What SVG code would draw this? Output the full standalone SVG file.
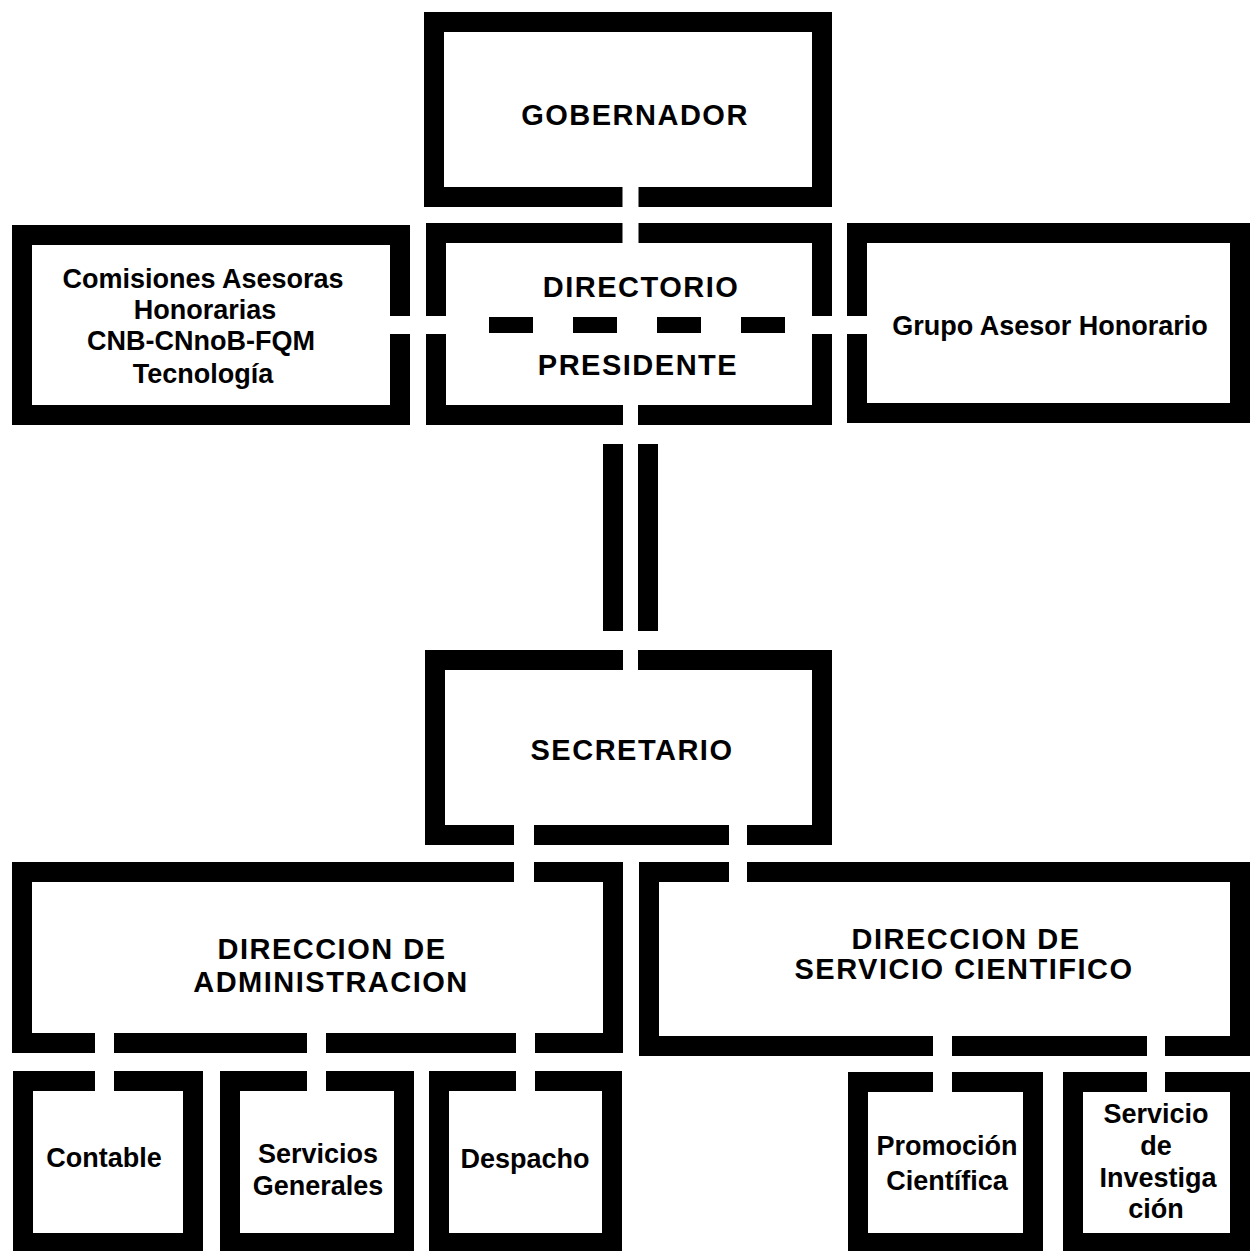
<svg xmlns="http://www.w3.org/2000/svg" width="1250" height="1251" viewBox="0 0 1250 1251">
<style>
.box{fill:none;stroke:#000;stroke-width:20}
.cap{font-family:"Liberation Sans",Arial,sans-serif;font-weight:bold;font-size:29px;letter-spacing:1.5px;text-anchor:middle;fill:#000}
.low{font-family:"Liberation Sans",Arial,sans-serif;font-weight:bold;font-size:27px;text-anchor:middle;fill:#000}
.ch{stroke:#fff;fill:none}
.bar{fill:#000}
</style>
<rect width="1250" height="1251" fill="#fff"/>
<g id="nodes">
<g id="gobernador"><rect class="box" x="434" y="22" width="388" height="175"/><text class="cap" x="635" y="125">GOBERNADOR</text></g>
<g id="comisiones"><rect class="box" x="22" y="235" width="378" height="180"/>
<text class="low" x="203" y="288">Comisiones Asesoras</text>
<text class="low" x="205" y="319">Honorarias</text>
<text class="low" x="201" y="350">CNB-CNnoB-FQM</text>
<text class="low" x="203" y="383">Tecnología</text></g>
<g id="directorio"><rect class="box" x="436" y="233" width="386" height="182"/>
<text class="cap" x="641" y="297">DIRECTORIO</text>
<text class="cap" x="638" y="375">PRESIDENTE</text></g>
<g id="grupo"><rect class="box" x="857" y="233" width="383" height="180"/><text class="low" x="1050" y="335" font-size="28.5">Grupo Asesor Honorario</text></g>
<g id="secretario"><rect class="box" x="435" y="660" width="387" height="175"/><text class="cap" x="632" y="760">SECRETARIO</text></g>
<g id="dir-admin"><rect class="box" x="22" y="872" width="591" height="171"/>
<text class="cap" x="332" y="959">DIRECCION DE</text>
<text class="cap" x="331" y="992">ADMINISTRACION</text></g>
<g id="dir-serv"><rect class="box" x="649" y="872" width="591" height="174"/>
<text class="cap" x="966" y="949">DIRECCION DE</text>
<text class="cap" x="964" y="979">SERVICIO CIENTIFICO</text></g>
<g id="contable"><rect class="box" x="23" y="1081" width="170" height="162"/><text class="low" x="104" y="1167" font-size="28">Contable</text></g>
<g id="servicios-generales"><rect class="box" x="230" y="1081" width="174" height="162"/>
<text class="low" x="318" y="1163" font-size="28">Servicios</text>
<text class="low" x="318" y="1195" font-size="28">Generales</text></g>
<g id="despacho"><rect class="box" x="439" y="1081" width="173" height="162"/><text class="low" x="525" y="1168" font-size="28">Despacho</text></g>
<g id="promocion"><rect class="box" x="858" y="1082" width="175" height="161"/>
<text class="low" x="947" y="1155" font-size="28">Promoción</text>
<text class="low" x="947" y="1190" font-size="28">Científica</text></g>
<g id="servicio-investigacion"><rect class="box" x="1073" y="1082" width="167" height="161"/>
<text class="low" x="1156" y="1123" font-size="28">Servicio</text>
<text class="low" x="1156" y="1155" font-size="28">de</text>
<text class="low" x="1158" y="1187" font-size="28">Investiga</text>
<text class="low" x="1156" y="1218" font-size="28">ción</text></g>
</g>
<g id="connectors">
<line class="ch" x1="630.5" y1="185" x2="630.5" y2="247" stroke-width="16"/>
<line class="ch" x1="630.5" y1="403" x2="630.5" y2="674" stroke-width="15"/>
<rect class="bar" x="603" y="444" width="20" height="187"/>
<rect class="bar" x="638" y="444" width="20" height="187"/>
<line class="ch" x1="388" y1="325" x2="448" y2="325" stroke-width="18"/>
<line class="ch" x1="810" y1="325" x2="870" y2="325" stroke-width="18"/>
<line x1="489" y1="325" x2="786" y2="325" stroke="#000" stroke-width="16" stroke-dasharray="44 40"/>
<line class="ch" x1="524" y1="823" x2="524" y2="884" stroke-width="20"/>
<line class="ch" x1="738" y1="823" x2="738" y2="884" stroke-width="18"/>
<line class="ch" x1="104.5" y1="1030" x2="104.5" y2="1094" stroke-width="19"/>
<line class="ch" x1="316.5" y1="1030" x2="316.5" y2="1094" stroke-width="19"/>
<line class="ch" x1="525.5" y1="1030" x2="525.5" y2="1094" stroke-width="19"/>
<line class="ch" x1="942.5" y1="1033" x2="942.5" y2="1094" stroke-width="19"/>
<line class="ch" x1="1156" y1="1033" x2="1156" y2="1094" stroke-width="18"/>
</g>
</svg>
